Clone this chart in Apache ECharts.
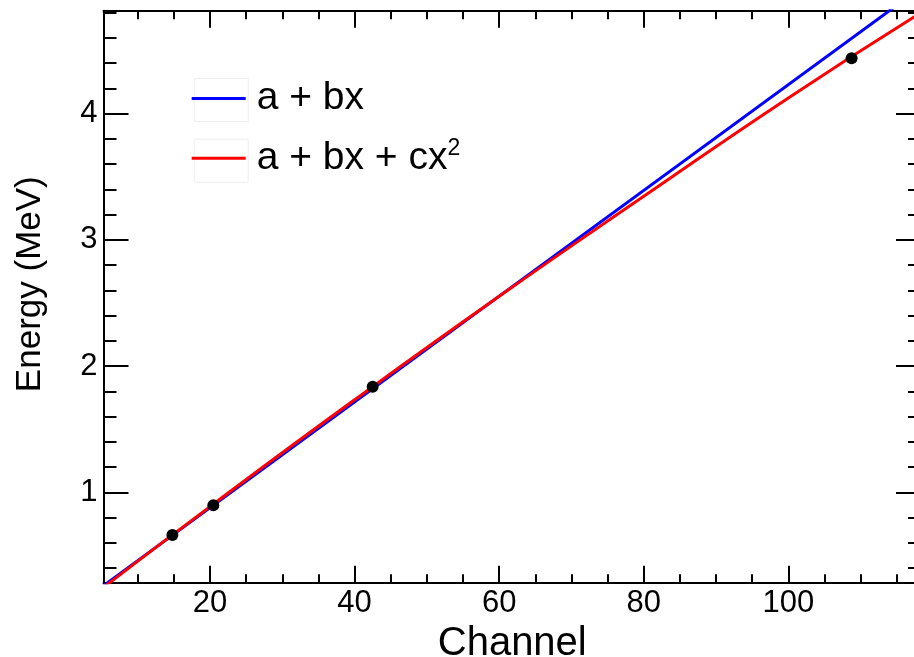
<!DOCTYPE html>
<html>
<head>
<meta charset="utf-8">
<script src="https://cdn.jsdelivr.net/npm/echarts@6/dist/echarts.min.js"></script>
<style>
html,body{margin:0;padding:0;background:#fff;}
#c{width:914px;height:657px;}
</style>
</head>
<body>
<div id="c"></div>
<script>
// ---- data ----
const pointChannel = [14.8, 20.46, 42.5, 108.75];
const pointEnergy = [0.662, 0.898, 1.836, 4.44];

const linearChannel = [5.27, 118.35];
const linearEnergy = [0.261, 4.999];

const quadChannel = [5.27, 20, 40, 60, 80, 100, 118.35];
const quadEnergy = [0.247, 0.887, 1.733, 2.553, 3.345, 4.125, 4.80];

const seriesNames = ['a + bx', 'a + bx + cx2'];
const xRange = [5.27, 118.35];
const yRange = [0.284, 4.816];
const xTitle = 'Channel';
const yTitle = 'Energy (MeV)';

// ---- chart ----
const FONT = '"Liberation Sans", Arial, Helvetica, sans-serif';
const zip = (a, b) => a.map((v, i) => [v, b[i]]);

function makeAxis(kind, opts) {
  const isX = kind === 'x';
  const range = isX ? xRange : yRange;
  const major = isX ? 17 : 25;
  const minor = isX ? 8.5 : 13;
  return Object.assign({
    type: 'value',
    min: range[0],
    max: range[1],
    splitNumber: 5,
    axisLine: { show: true, onZero: false, lineStyle: { color: '#000', width: 2 } },
    axisTick: { show: true, inside: true, length: major, lineStyle: { color: '#000', width: 2 } },
    minorTick: { show: true, splitNumber: isX ? 4 : 5, length: minor, lineStyle: { color: '#000', width: 2 } },
    splitLine: { show: false },
    minorSplitLine: { show: false },
    axisLabel: { show: false }
  }, opts);
}

function legendBlock(name, top) {
  return {
    orient: 'vertical',
    left: 191.7,
    top: top,
    padding: 0,
    itemWidth: 54,
    itemHeight: 43,
    icon: 'path://M0,0H54V3H0Z',
    selectedMode: false,
    data: [name],
    formatter: n => (n === seriesNames[1] ? 'a + bx + cx{sup|2}' : n),
    textStyle: {
      fontFamily: FONT, fontSize: 39, color: '#000', padding: [0, 0, 0, 6],
      rich: {
        sup: { fontFamily: FONT, fontSize: 23, color: '#000', padding: [0, 0, 20, 0] }
      }
    }
  };
}

const chart = echarts.init(document.getElementById('c'), null, { renderer: 'canvas' });
chart.setOption({
  backgroundColor: '#fff',
  animation: false,
  grid: { left: 103.5, top: 10.7, right: -7, bottom: 74.3, containLabel: false, outerBoundsMode: 'none' },
  xAxis: [
    makeAxis('x', {
      position: 'bottom',
      name: xTitle,
      nameLocation: 'middle',
      nameGap: 33,
      nameTextStyle: { fontFamily: FONT, fontSize: 40, color: '#000' },
      axisLabel: {
        show: true, margin: 5, fontFamily: FONT, fontSize: 31, color: '#000',
        showMinLabel: false, showMaxLabel: false,
        formatter: v => (Math.abs(v % 20) < 1e-6 ? String(v) : '')
      }
    }),
    makeAxis('x', { position: 'top' })
  ],
  yAxis: [
    makeAxis('y', {
      position: 'left',
      name: yTitle,
      nameLocation: 'middle',
      nameGap: 56,
      nameTextStyle: { fontFamily: FONT, fontSize: 35, color: '#000', padding: [0, 0, 0, 25] },
      axisLabel: {
        show: true, margin: 6, fontFamily: FONT, fontSize: 31, color: '#000',
        showMinLabel: false, showMaxLabel: false,
        formatter: v => (Math.abs(v - Math.round(v)) < 1e-6 ? String(Math.round(v)) : '')
      }
    }),
    makeAxis('y', { position: 'right' })
  ],
  legend: [legendBlock(seriesNames[0], 79), legendBlock(seriesNames[1], 136.7)],
  graphic: [
    { type: 'rect', left: 191.7, top: 76, shape: { width: 54, height: 43 }, style: { fill: 'none', stroke: '#eeeeee', lineWidth: 1 }, z: 0 },
    { type: 'rect', left: 191.7, top: 136.7, shape: { width: 54, height: 43 }, style: { fill: 'none', stroke: '#eeeeee', lineWidth: 1 }, z: 0 }
  ],
  series: [
    {
      name: seriesNames[0],
      type: 'line',
      xAxisIndex: 0, yAxisIndex: 0,
      data: zip(linearChannel, linearEnergy),
      showSymbol: false,
      symbol: 'none',
      clip: true,
      lineStyle: { color: '#0000ff', width: 3 },
      itemStyle: { color: '#0000ff' },
      z: 3
    },
    {
      name: seriesNames[1],
      type: 'line',
      xAxisIndex: 0, yAxisIndex: 0,
      data: zip(quadChannel, quadEnergy),
      showSymbol: false,
      symbol: 'none',
      smooth: true,
      clip: true,
      lineStyle: { color: '#ff0000', width: 3 },
      itemStyle: { color: '#ff0000' },
      z: 4
    },
    {
      name: 'data',
      type: 'scatter',
      xAxisIndex: 0, yAxisIndex: 0,
      data: zip(pointChannel, pointEnergy),
      symbol: 'circle',
      symbolSize: 12,
      itemStyle: { color: '#000', opacity: 1 },
      z: 5
    }
  ]
});
</script>
</body>
</html>
